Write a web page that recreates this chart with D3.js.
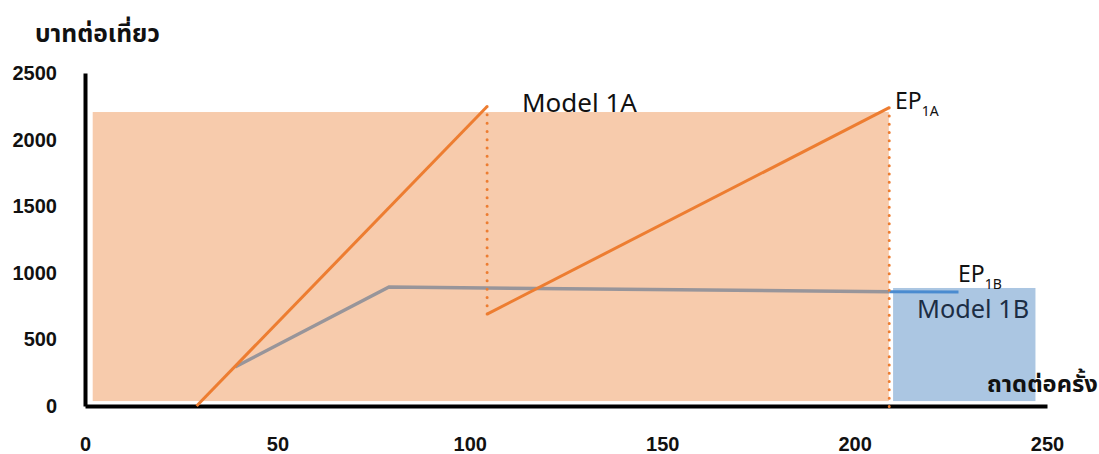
<!DOCTYPE html>
<html>
<head>
<meta charset="utf-8">
<script src="https://cdn.jsdelivr.net/npm/d3@7"></script>
<style>
  body { margin: 0; background: #fff; }
  svg text { font-family: "Liberation Sans", Arial, sans-serif; }
  .thai { font-family: "Noto Sans Thai", "Tahoma", "Loma", "Garuda", "Noto Sans", sans-serif; font-weight: bold; fill: #111; }
  .lbl { font-family: "Noto Sans", "Open Sans", sans-serif; }
</style>
</head>
<body>
<div id="chart"></div>
<script>
var width = 1099, height = 454;

// axis ticks
var xTicks = [0, 50, 100, 150, 200, 250];
var yTicks = [0, 500, 1000, 1500, 2000, 2500];

// shaded zones [x0, x1] / [y0, y1]
var zoneAX = [2, 208.9], zoneAY = [37, 2207];
var zoneBX = [210, 247], zoneBY = [37, 886];

// Model 1A cost line (orange), two pieces joined by a dotted drop
var costA1X = [29, 104.5], costA1Y = [0, 2248];
var costA2X = [104.5, 209], costA2Y = [690, 2240];
var dropAX = [104.5, 104.5], dropAY = [2248, 690];
var epAX = [209, 209], epAY = [2240, -45];

// grey line and Model 1B (blue) continuation
var greyX = [39, 79, 209], greyY = [293, 893, 858];
var blueX = [209, 227], blueY = [858, 856];

var svg = d3.select("#chart").append("svg")
    .attr("width", width).attr("height", height);

var x = d3.scaleLinear().domain([0, 250]).range([85, 1047]);
var y = d3.scaleLinear().domain([0, 2500]).range([406, 73]);

function rect(xs, ys, fill) {
    svg.append("rect")
        .attr("x", x(xs[0])).attr("y", y(ys[1]))
        .attr("width", x(xs[1]) - x(xs[0]))
        .attr("height", y(ys[0]) - y(ys[1]))
        .attr("fill", fill);
}
rect(zoneAX, zoneAY, "#f7cbac");
rect(zoneBX, zoneBY, "#abc6e2");

var line = d3.line()
    .x(function(d) { return x(d[0]); })
    .y(function(d) { return y(d[1]); });

function path(xs, ys, color, w, dash) {
    var p = svg.append("path")
        .datum(d3.zip(xs, ys))
        .attr("d", line)
        .attr("fill", "none")
        .attr("stroke", color)
        .attr("stroke-width", w);
    if (dash) {
        p.attr("stroke-dasharray", dash).attr("stroke-linecap", "round");
    }
}

// axes
var xAxis = svg.append("g")
    .attr("transform", "translate(0," + y(0) + ")")
    .call(d3.axisBottom(x).tickValues(xTicks).tickFormat(d3.format("d")).tickSize(0).tickPadding(31));
var yAxis = svg.append("g")
    .attr("transform", "translate(" + x(0) + ",0)")
    .call(d3.axisLeft(y).tickValues(yTicks).tickFormat(d3.format("d")).tickSize(0).tickPadding(28));

[xAxis, yAxis].forEach(function(g) {
    g.select(".domain").attr("stroke", "#000").attr("stroke-width", 4);
    g.selectAll("text")
        .attr("fill", "#111")
        .style("font-size", "20px")
        .style("font-weight", "bold");
});

path(greyX, greyY, "#98959a", 3.5);
path(blueX, blueY, "#4a8bd0", 3);
path(costA1X, costA1Y, "#ed7d31", 3);
path(costA2X, costA2Y, "#ed7d31", 3);
path(dropAX, dropAY, "#ed7d31", 3, "0 8.3");
path(epAX, epAY, "#ed7d31", 3, "0 8.3");

// scale a label's font so it spans the given width
function fit(t, size, w) {
    t.style("font-size", size + "px");
    var got = t.node().getComputedTextLength();
    if (got > 0) t.style("font-size", (size * w / got).toFixed(1) + "px");
    return t;
}

// labels
fit(svg.append("text").attr("class", "thai")
    .attr("x", 35).attr("y", 42)
    .text("บาทต่อเที่ยว"), 22, 125);

fit(svg.append("text").attr("class", "thai")
    .attr("x", 987).attr("y", 392)
    .text("ถาดต่อครั้ง"), 21, 111);

fit(svg.append("text").attr("class", "lbl")
    .attr("x", 522).attr("y", 112)
    .attr("fill", "#111")
    .text("Model 1A"), 24, 115);

fit(svg.append("text").attr("class", "lbl")
    .attr("x", 917).attr("y", 318)
    .attr("fill", "#1c2d44")
    .text("Model 1B"), 23, 112);

function ep(px, py, sub) {
    var t = svg.append("text").attr("class", "lbl")
        .attr("x", px).attr("y", py)
        .attr("fill", "#111")
        .style("font-size", "23px");
    t.append("tspan").text("EP");
    t.append("tspan").attr("dy", 7).style("font-size", "14px").text(sub);
}
ep(895, 109, "1A");
ep(958, 282, "1B");
</script>
</body>
</html>
